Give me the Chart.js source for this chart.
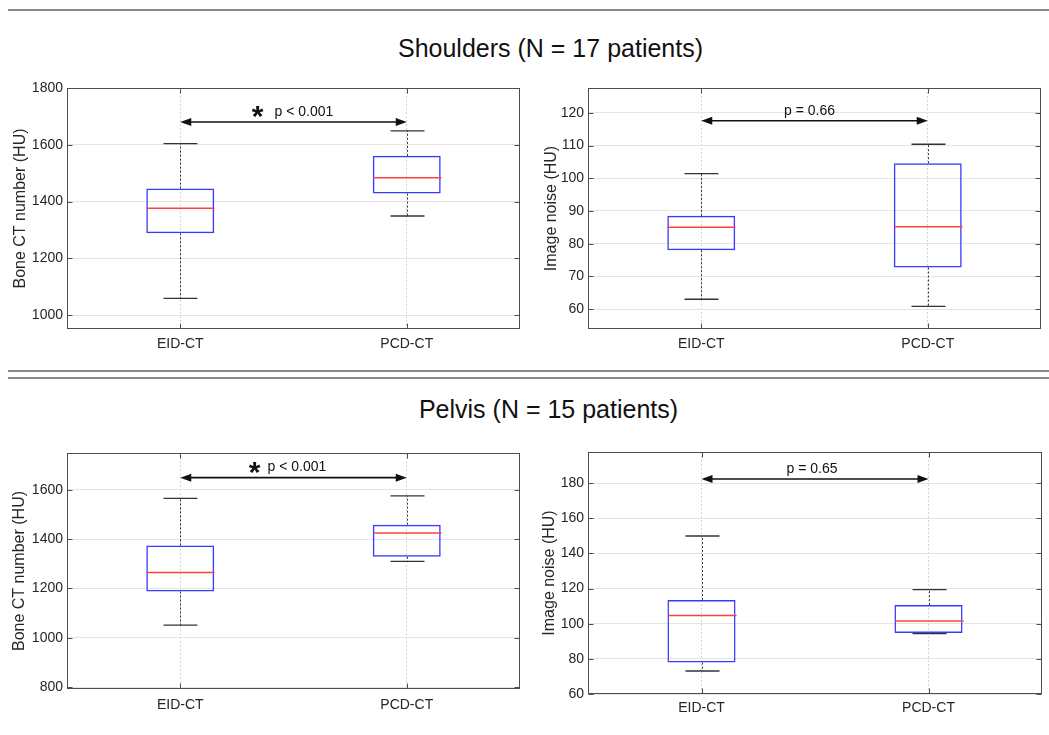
<!DOCTYPE html>
<html>
<head>
<meta charset="utf-8">
<title>Bone CT number and image noise, EID-CT vs PCD-CT</title>
<script src="https://cdn.jsdelivr.net/npm/chart.js@4.4.1/dist/chart.umd.min.js"></script>
<style>
  body { margin: 0; background: #fff; font-family: "Liberation Sans", Arial, sans-serif; }
  #wrap { position: relative; width: 1049px; height: 735px; overflow: hidden; }
  .rule { position: absolute; left: 8px; width: 1041px; height: 0; border-top: 2px solid #8a8a8a; }
  .head { position: absolute; width: 1049px; text-align: center; font-size: 25px; line-height: 30px; color: #111; }
  canvas { position: absolute; }
</style>
</head>
<body>
<div id="wrap">
  <div class="rule" style="top:9px"></div>
  <div class="head" style="left:26px;top:33px">Shoulders (N = 17 patients)</div>
  <canvas id="c1" width="530" height="275" style="left:0;top:80px"></canvas>
  <canvas id="c2" width="519" height="275" style="left:530px;top:80px"></canvas>
  <div class="rule" style="top:370px"></div>
  <div class="rule" style="top:377px"></div>
  <div class="head" style="left:24px;top:394px">Pelvis (N = 15 patients)</div>
  <canvas id="c3" width="530" height="280" style="left:0;top:440px"></canvas>
  <canvas id="c4" width="519" height="280" style="left:530px;top:440px"></canvas>
</div>
<script>
var groups = ['EID-CT', 'PCD-CT'];

// five-number summaries: [lower whisker, Q1, median, Q3, upper whisker]
var shoulderBoneEID = [1059, 1288, 1376, 1446, 1604];
var shoulderBonePCD = [1349, 1428, 1484, 1561, 1649];
var shoulderNoiseEID = [63.0, 78.0, 85.0, 88.5, 101.4];
var shoulderNoisePCD = [60.8, 72.7, 85.2, 104.6, 110.4];
var pelvisBoneEID = [1051, 1188, 1265, 1375, 1566];
var pelvisBonePCD = [1310, 1329, 1425, 1459, 1576];
var pelvisNoiseEID = [73.1, 77.9, 104.6, 113.5, 149.9];
var pelvisNoisePCD = [94.3, 94.7, 101.5, 110.7, 119.4];

var shoulderBoneTicks = [1000, 1200, 1400, 1600, 1800];
var shoulderNoiseTicks = [60, 70, 80, 90, 100, 110, 120];
var pelvisBoneTicks = [800, 1000, 1200, 1400, 1600];
var pelvisNoiseTicks = [60, 80, 100, 120, 140, 160, 180];

var pLabels = ['p < 0.001', 'p = 0.66', 'p < 0.001', 'p = 0.65'];
var significant = [true, false, true, false];
var bracketLevel = [1680, 117.6, 1650, 182.3];

var FONT = '"Liberation Sans", Arial, sans-serif';

function line(ctx, x1, y1, x2, y2) {
	ctx.beginPath();
	ctx.moveTo(x1, y1);
	ctx.lineTo(x2, y2);
	ctx.stroke();
}

var boxDecor = {
	id: 'boxDecor',
	afterDatasetsDraw: function(chart) {
		var o = chart.options.plugins.boxDecor;
		var ctx = chart.ctx, xs = chart.scales.x, ys = chart.scales.y;
		var bars = chart.getDatasetMeta(0).data;
		ctx.save();
		o.stats.forEach(function(s, i) {
			var cx = Math.round(bars[i].x) + 0.5, hw = bars[i].width / 2, cw = hw / 2;
			var yLo = ys.getPixelForValue(s[0]), yQ1 = ys.getPixelForValue(s[1]);
			var yMed = ys.getPixelForValue(s[2]), yQ3 = ys.getPixelForValue(s[3]);
			var yHi = ys.getPixelForValue(s[4]);
			// whiskers
			ctx.strokeStyle = '#333';
			ctx.lineWidth = 1;
			ctx.setLineDash([2, 2]);
			line(ctx, cx, yQ3, cx, yHi);
			line(ctx, cx, yQ1, cx, yLo);
			ctx.setLineDash([]);
			ctx.lineWidth = 1.3;
			line(ctx, cx - cw, yHi, cx + cw, yHi);
			line(ctx, cx - cw, yLo, cx + cw, yLo);
			// median
			ctx.strokeStyle = '#ff4040';
			ctx.lineWidth = 1.5;
			line(ctx, cx - hw, yMed, cx + hw, yMed);
		});

		// double arrow with p value
		var xa = xs.getPixelForValue(0), xb = xs.getPixelForValue(1);
		var ya = ys.getPixelForValue(o.bracket);
		var mid = (xa + xb) / 2;
		ctx.strokeStyle = '#111';
		ctx.fillStyle = '#111';
		ctx.lineWidth = 1.6;
		line(ctx, xa + 6, ya, xb - 6, ya);
		ctx.beginPath();
		ctx.moveTo(xa, ya); ctx.lineTo(xa + 11, ya - 4); ctx.lineTo(xa + 11, ya + 4); ctx.closePath();
		ctx.fill();
		ctx.beginPath();
		ctx.moveTo(xb, ya); ctx.lineTo(xb - 11, ya - 4); ctx.lineTo(xb - 11, ya + 4); ctx.closePath();
		ctx.fill();

		ctx.font = '14px ' + FONT;
		ctx.textBaseline = 'middle';
		if (o.star) {
			ctx.textAlign = 'left';
			ctx.fillText(o.label, mid + o.textDx, ya - 10);
			ctx.font = 'bold 30px ' + FONT;
			ctx.textAlign = 'center';
			ctx.textBaseline = 'alphabetic';
			var m = ctx.measureText('*');
			var cy = ya - 10;
			ctx.fillText('*', mid + o.starDx, cy + (m.actualBoundingBoxAscent - m.actualBoundingBoxDescent) / 2);
		} else {
			ctx.textAlign = 'center';
			ctx.fillText(o.label, mid + o.textDx, ya - 10);
		}
		ctx.restore();
	},
	afterDraw: function(chart) {
		var ctx = chart.ctx, a = chart.chartArea, ys = chart.scales.y, xs = chart.scales.x;
		ctx.save();
		ctx.strokeStyle = '#4d4d4d';
		ctx.lineWidth = 1;
		var l = Math.round(a.left) + 0.5, r = Math.round(a.right) - 0.5;
		var t = Math.round(a.top) + 0.5, b = Math.round(a.bottom) - 0.5;
		ctx.strokeRect(l, t, r - l, b - t);
		ys.ticks.forEach(function(tk) {
			var y = Math.round(ys.getPixelForValue(tk.value)) + 0.5;
			line(ctx, l, y, l + 5, y);
			line(ctx, r, y, r - 5, y);
		});
		[0, 1].forEach(function(i) {
			var x = Math.round(xs.getPixelForValue(i)) + 0.5;
			line(ctx, x, b, x, b - 5);
			line(ctx, x, t, x, t + 5);
		});
		ctx.restore();
	}
};

function drawPanel(id, eid, pcd, ticks, yMin, yMax, yTitle, k, lay) {
	var ctx = document.getElementById(id);
	return new Chart(ctx, {
		type: 'bar',
		data: {
			labels: groups,
			datasets: [{
				data: [[eid[1], eid[3]], [pcd[1], pcd[3]]],
				backgroundColor: 'rgba(0,0,0,0)',
				borderColor: '#3a3aff',
				borderWidth: 1.5,
				borderSkipped: false,
				categoryPercentage: 1,
				barPercentage: 0.3
			}]
		},
		options: {
			responsive: false,
			animation: false,
			devicePixelRatio: 1,
			layout: { padding: { top: lay.top, right: lay.right, left: 0, bottom: 0 } },
			plugins: {
				legend: { display: false },
				tooltip: { enabled: false },
				boxDecor: {
					stats: [eid, pcd], bracket: bracketLevel[k], label: pLabels[k], star: significant[k],
					starDx: lay.starDx, textDx: lay.textDx
				}
			},
			scales: {
				x: {
					offset: true,
					grid: { offset: false, color: '#d6d6d6', drawTicks: false },
					border: { display: false, dash: [2, 2] },
					ticks: { color: '#262626', padding: lay.xPad, font: { family: FONT, size: 14 } },
					afterFit: function(s) { s.height = lay.xHeight; s.paddingLeft = 0; s.paddingRight = 0; }
				},
				y: {
					min: yMin,
					max: yMax,
					grid: { color: '#e4e4e4', drawTicks: false },
					border: { display: false },
					ticks: {
						color: '#262626', padding: 4, font: { family: FONT, size: 14 },
						callback: function(v) { return String(v); }
					},
					afterBuildTicks: function(s) { s.ticks = ticks.map(function(v) { return { value: v }; }); },
					afterFit: function(s) { s.width = lay.yWidth; s.paddingTop = 0; s.paddingBottom = 0; },
					title: {
						display: true,
						text: yTitle,
						color: '#262626',
						padding: { top: lay.titlePad, bottom: 0 },
						font: { family: FONT, size: 16 }
					}
				}
			}
		},
		plugins: [boxDecor]
	});
}

drawPanel('c1', shoulderBoneEID, shoulderBonePCD, shoulderBoneTicks, 951, 1800, 'Bone CT number (HU)', 0,
	{ top: 8, right: 10, yWidth: 67, xHeight: 26, titlePad: 11, xPad: 7, starDx: -36, textDx: -19 });
drawPanel('c2', shoulderNoiseEID, shoulderNoisePCD, shoulderNoiseTicks, 53.9, 127.6, 'Image noise (HU)', 1,
	{ top: 8, right: 8, yWidth: 58, xHeight: 26, titlePad: 12, xPad: 7, starDx: 0, textDx: -5 });
drawPanel('c3', pelvisBoneEID, pelvisBonePCD, pelvisBoneTicks, 792, 1750, 'Bone CT number (HU)', 2,
	{ top: 13, right: 10, yWidth: 67, xHeight: 31, titlePad: 10, xPad: 8, starDx: -39, textDx: -26 });
drawPanel('c4', pelvisNoiseEID, pelvisNoisePCD, pelvisNoiseTicks, 60, 197.7, 'Image noise (HU)', 3,
	{ top: 12, right: 7, yWidth: 58, xHeight: 26, titlePad: 10, xPad: 6, starDx: 0, textDx: -3 });
</script>
</body>
</html>
